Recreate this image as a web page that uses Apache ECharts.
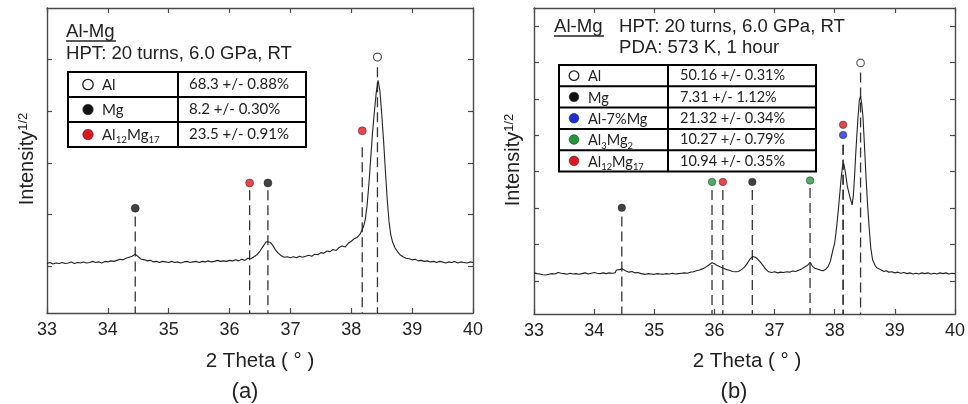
<!DOCTYPE html>
<html><head><meta charset="utf-8">
<script src="https://cdn.jsdelivr.net/npm/echarts@6/dist/echarts.min.js"></script>
<style>html,body{margin:0;padding:0;background:#fff}#c{width:968px;height:404px}</style>
</head><body><div id="c"></div>
<script>
// ---------- data ----------
const xTickValues = [33, 34, 35, 36, 37, 38, 39, 40];

// Panel (a): HPT 20 turns, 6.0 GPa, RT   [2theta, intensity^(1/2) (arb.)]
const specA = [
[33.00,10.5],[33.05,10.7],[33.10,10.4],[33.15,10.6],[33.20,10.5],[33.25,10.7],[33.30,10.5],[33.35,10.6],[33.40,10.8],[33.45,10.5],
[33.50,10.7],[33.55,10.6],[33.60,10.8],[33.65,10.6],[33.70,10.7],[33.75,10.9],[33.80,10.7],[33.85,10.8],[33.90,10.6],[33.95,10.9],
[34.00,10.8],[34.05,11.0],[34.10,10.9],[34.15,11.1],[34.20,11.3],[34.25,11.2],[34.30,11.5],[34.35,11.7],[34.40,11.9],[34.45,12.3],
[34.50,11.8],[34.55,11.3],[34.60,11.2],[34.65,11.0],[34.70,11.1],[34.75,10.8],[34.80,10.9],[34.85,10.7],[34.90,10.9],[34.95,10.8],
[35.00,10.7],[35.05,10.9],[35.10,10.7],[35.15,10.8],[35.20,10.6],[35.25,10.8],[35.30,10.9],[35.35,10.7],[35.40,10.8],[35.45,10.9],
[35.50,10.7],[35.55,10.9],[35.60,10.8],[35.65,11.0],[35.70,10.8],[35.75,10.9],[35.80,11.1],[35.85,10.9],[35.90,11.0],[35.95,10.9],
[36.00,11.1],[36.05,11.0],[36.10,11.2],[36.15,11.0],[36.20,11.3],[36.25,11.1],[36.30,11.5],[36.35,11.4],[36.40,11.8],[36.45,12.2],
[36.50,12.9],[36.55,13.8],[36.60,14.7],[36.63,14.9],[36.67,14.6],[36.71,14.0],[36.75,13.2],[36.80,12.5],[36.85,12.0],[36.90,11.7],
[36.95,11.8],[37.00,11.6],[37.05,11.8],[37.10,11.6],[37.15,11.9],[37.20,11.7],[37.25,11.9],[37.30,12.1],[37.35,11.9],[37.40,12.3],
[37.45,12.2],[37.50,12.6],[37.55,12.5],[37.60,12.9],[37.65,12.8],[37.70,13.2],[37.75,13.0],[37.80,13.6],[37.85,13.9],[37.90,13.7],
[37.95,14.4],[38.00,14.8],[38.05,15.3],[38.10,15.6],[38.15,16.3],[38.20,17.6],[38.23,19.0],[38.26,21.8],[38.29,26.0],[38.32,31.0],
[38.35,36.0],[38.38,40.0],[38.41,43.6],[38.44,46.0],[38.47,44.0],[38.50,39.5],[38.53,34.4],[38.56,28.5],[38.59,23.0],[38.62,18.6],
[38.65,16.0],[38.68,14.6],[38.72,13.5],[38.76,12.8],[38.80,12.2],[38.85,11.8],[38.90,11.5],[38.95,11.4],[39.00,11.2],[39.05,11.3],
[39.10,11.0],[39.15,11.1],[39.20,10.9],[39.25,11.0],[39.30,10.8],[39.35,10.9],[39.40,10.7],[39.45,10.9],[39.50,10.8],[39.55,10.6],
[39.60,10.8],[39.65,10.7],[39.70,10.9],[39.75,10.6],[39.80,10.8],[39.85,10.7],[39.90,10.6],[39.95,10.8],[40.00,10.7]
];

// Panel (b): HPT + PDA 573 K, 1 hour
const specB = [
[33.00,12.2],[33.05,12.0],[33.10,11.9],[33.15,11.7],[33.20,11.6],[33.25,11.8],[33.30,12.0],[33.35,11.9],[33.40,12.3],[33.45,12.1],
[33.50,12.0],[33.55,11.8],[33.60,12.1],[33.65,11.9],[33.70,12.0],[33.75,11.8],[33.80,12.0],[33.85,12.2],[33.90,11.9],[33.95,12.1],
[34.00,12.3],[34.05,12.1],[34.10,12.0],[34.15,12.2],[34.20,12.0],[34.25,12.2],[34.30,12.1],[34.35,12.2],[34.37,13.0],[34.42,13.1],
[34.47,13.3],[34.52,12.8],[34.58,12.4],[34.63,12.6],[34.68,12.2],[34.73,12.3],[34.78,12.0],[34.85,11.8],[34.90,12.0],[34.95,11.9],
[35.00,11.8],[35.05,12.0],[35.10,11.9],[35.15,11.8],[35.20,12.0],[35.25,11.9],[35.30,12.1],[35.35,11.9],[35.40,12.0],[35.45,12.1],
[35.50,12.2],[35.55,12.1],[35.60,12.4],[35.65,12.5],[35.70,12.8],[35.75,13.0],[35.80,13.3],[35.85,13.7],[35.90,14.3],[35.96,15.0],
[36.00,14.7],[36.05,14.2],[36.10,13.8],[36.15,13.5],[36.20,13.1],[36.25,12.9],[36.30,12.6],[36.35,12.5],[36.40,12.6],[36.45,13.1],
[36.50,13.8],[36.55,14.9],[36.60,16.2],[36.64,16.7],[36.68,16.5],[36.72,16.0],[36.76,15.2],[36.80,14.4],[36.85,13.3],[36.90,12.5],
[36.95,12.3],[37.00,12.5],[37.05,12.2],[37.10,12.4],[37.15,12.3],[37.20,12.5],[37.25,12.4],[37.30,12.7],[37.35,12.6],[37.40,12.9],
[37.45,13.3],[37.50,13.8],[37.55,14.3],[37.59,15.1],[37.63,14.0],[37.67,13.5],[37.72,13.2],[37.77,12.9],[37.81,12.8],[37.85,13.2],
[37.89,13.9],[37.93,15.5],[37.97,18.5],[38.00,20.4],[38.03,24.5],[38.06,29.5],[38.09,35.0],[38.11,38.7],[38.13,41.5],[38.15,42.3],
[38.18,39.6],[38.21,36.0],[38.25,33.2],[38.29,30.9],[38.31,33.5],[38.33,38.7],[38.35,45.0],[38.37,50.6],[38.39,55.5],[38.41,59.7],
[38.43,60.8],[38.45,58.5],[38.47,55.1],[38.50,45.5],[38.52,38.7],[38.55,30.0],[38.58,23.1],[38.60,19.0],[38.63,15.8],[38.67,14.3],
[38.70,13.6],[38.74,13.3],[38.78,12.9],[38.82,12.6],[38.86,12.8],[38.90,12.4],[38.95,12.5],[39.00,12.2],[39.05,12.4],[39.10,12.1],
[39.15,12.3],[39.20,12.0],[39.25,12.2],[39.30,11.9],[39.35,12.1],[39.40,11.9],[39.45,12.2],[39.50,12.0],[39.55,12.2],[39.60,11.9],
[39.65,12.1],[39.70,11.9],[39.75,12.2],[39.80,12.0],[39.85,12.2],[39.90,11.9],[39.95,12.1],[40.00,12.0]
];

// Peak markers (a)
const markA_theta = [34.45, 36.33, 36.63, 38.18, 38.43];
const markA_level = [21.2, 26.1, 26.1, 36.2, 50.5];
const markA_lineTop = [19.6, 24.7, 24.7, 33.0, 48.5];
const markA_phase = ['Mg', 'Al12Mg17', 'Mg', 'Al12Mg17', 'Al'];

// Peak markers (b)
const markB_theta = [34.46, 35.96, 36.14, 36.63, 37.59, 38.14, 38.14, 38.43];
const markB_level = [30.1, 37.2, 37.2, 37.2, 37.6, 52.9, 50.1, 69.9];
const markB_lineTop = [27.7, 35.0, 35.0, 35.0, 35.5, 47.4, 47.4, 67.3];
const markB_phase = ['Mg', 'Al3Mg2', 'Al12Mg17', 'Mg', 'Al3Mg2', 'Al12Mg17', 'Al-7%Mg', 'Al'];

// Phase fraction tables
const tableA_phases = ['Al', 'Mg', 'Al12Mg17'];
const tableA_fractions = ['68.3 +/- 0.88%', '8.2 +/- 0.30%', '23.5 +/- 0.91%'];
const tableB_phases = ['Al', 'Mg', 'Al-7%Mg', 'Al3Mg2', 'Al12Mg17'];
const tableB_fractions = ['50.16 +/- 0.31%', '7.31 +/- 1.12%', '21.32 +/- 0.34%', '10.27 +/- 0.79%', '10.94 +/- 0.35%'];

const yTicksA = [10, 20, 30, 40, 50];
const yTicksB = [10, 20, 30, 40, 50, 60, 70, 80];

// ---------- styling ----------
const phaseColor = {
  'Al': '#ffffff', 'Mg': '#111111', 'Al-7%Mg': '#1a2fe0',
  'Al3Mg2': '#1f9a37', 'Al12Mg17': '#e8141c'
};
const AX = '#4a4a4a';
const SANS = '"Liberation Sans", Arial, sans-serif';
const TBL = 'Lato, "Open Sans", sans-serif';

const yA = {min: 0.9, max: 60};
const yB = {min: 0.9, max: 85};

function xAxisCfg(grid, pos, labels) {
  return {
    type: 'value', gridIndex: grid, position: pos, min: 33, max: 40, interval: 1,
    axisLine: {show: true, onZero: false, lineStyle: {color: AX, width: 1.4}},
    axisTick: {show: true, inside: true, length: 5, lineStyle: {color: AX, width: 1.2}},
    axisLabel: {show: labels, fontFamily: SANS, fontSize: 18, color: '#222', margin: 8},
    splitLine: {show: false}
  };
}
function yAxisCfg(grid, pos, r, ticks) {
  return {
    type: 'value', gridIndex: grid, position: pos, min: r.min, max: r.max,
    axisLine: {show: true, onZero: false, lineStyle: {color: AX, width: 1.4}},
    axisTick: {show: true, inside: true, length: 5, customValues: ticks, lineStyle: {color: AX, width: 1.2}},
    axisLabel: {show: false, customValues: ticks},
    splitLine: {show: false}
  };
}

const series = [];
function addPanel(spec, thetas, levels, tops, phases, xi, yi, ymin, msize) {
  series.push({
    type: 'line', xAxisIndex: xi, yAxisIndex: yi, data: spec, showSymbol: false,
    symbol: 'none', lineStyle: {color: '#222', width: 1.1}, silent: true, z: 3
  });
  thetas.forEach((t, i) => {
    series.push({
      type: 'line', xAxisIndex: xi, yAxisIndex: yi, symbol: 'none', silent: true, z: 2,
      data: [[t, tops[i]], [t, ymin]],
      lineStyle: {color: '#333', width: 1.3, type: [10, 5]}
    });
  });
  series.push({
    type: 'scatter', xAxisIndex: xi, yAxisIndex: yi, symbolSize: msize, z: 5, silent: true,
    data: thetas.map((t, i) => ({
      value: [t, levels[i]],
      itemStyle: {color: phaseColor[phases[i]], borderColor: phases[i] === 'Al' ? '#333' : '#222', borderWidth: phases[i] === 'Al' ? 1.2 : 0.6}
    }))
  });
}
addPanel(specA, markA_theta, markA_level, markA_lineTop, markA_phase, 0, 0, yA.min, 8);
addPanel(specB, markB_theta, markB_level, markB_lineTop, markB_phase, 2, 2, yB.min, 7.5);

// ---------- graphic overlays (text & tables) ----------
function richName(n) { return n.replace(/([A-Za-z])(\d+)/g, '$1{sub|$2}'); }

const graphics = [];
function table(x0, x1, xd, rowTops, rowH, phases, fracs, mx, nx, vx, fs, r) {
  const y0 = rowTops, n = phases.length;
  graphics.push({type: 'rect', z: 50, shape: {x: x0, y: y0, width: x1 - x0, height: rowH * n},
    style: {fill: '#fff', stroke: '#000', lineWidth: 2}});
  for (let i = 1; i < n; i++) {
    graphics.push({type: 'line', z: 51, shape: {x1: x0, y1: y0 + rowH * i, x2: x1, y2: y0 + rowH * i},
      style: {stroke: '#000', lineWidth: 2}});
  }
  graphics.push({type: 'line', z: 51, shape: {x1: xd, y1: y0, x2: xd, y2: y0 + rowH * n},
    style: {stroke: '#000', lineWidth: 2}});
  phases.forEach((p, i) => {
    const cy = y0 + rowH * i + rowH / 2;
    graphics.push({type: 'circle', z: 52, shape: {cx: mx, cy: cy, r: r},
      style: {fill: phaseColor[p], stroke: '#222', lineWidth: p === 'Al' ? 1.3 : 0.6}});
    graphics.push({type: 'text', z: 52, x: nx, y: cy + 1, style: {
      text: richName(p), fontFamily: TBL, fontSize: fs, fill: '#222', verticalAlign: 'middle', align: 'left',
      lineHeight: 19,
      rich: {sub: {fontFamily: TBL, fontSize: fs * 0.65, fill: '#222', verticalAlign: 'bottom', lineHeight: 9}}
    }});
    graphics.push({type: 'text', z: 52, x: vx, y: cy, style: {
      text: fracs[i], fontFamily: TBL, fontSize: fs, fill: '#222', verticalAlign: 'middle', align: 'left'}});
  });
}
table(68, 306, 178, 72, 25, tableA_phases, tableA_fractions, 88, 102, 189, 15, 5.2);
table(559, 816, 668, 65, 21.3, tableB_phases, tableB_fractions, 574, 588, 680, 14.5, 4.8);

function txt(x, y, s, fs, align, extra) {
  graphics.push(Object.assign({type: 'text', z: 60, x: x, y: y, style: {
    text: s, fontFamily: SANS, fontSize: fs, fill: '#222', align: align || 'left', verticalAlign: 'middle'}}, extra || {}));
}
// panel (a) headings
txt(66, 32, 'Al-Mg', 18.6);
graphics.push({type: 'line', z: 60, shape: {x1: 66, y1: 41, x2: 116, y2: 41}, style: {stroke: '#222', lineWidth: 1.3}});
txt(66, 54, 'HPT: 20 turns, 6.0 GPa, RT', 18.6);
// panel (b) headings
txt(554, 27, 'Al-Mg', 18.6);
graphics.push({type: 'line', z: 60, shape: {x1: 554, y1: 36, x2: 604, y2: 36}, style: {stroke: '#222', lineWidth: 1.3}});
txt(619, 27, 'HPT: 20 turns, 6.0 GPa, RT', 18.6);
txt(619, 48, 'PDA: 573 K, 1 hour', 18.6);

// axis titles
function yTitle(x, y) {
  graphics.push({type: 'text', z: 60, x: x, y: y, rotation: Math.PI / 2, style: {
    text: 'Intensity{sup|1/2}', fontFamily: SANS, fontSize: 20, fill: '#222', align: 'center', verticalAlign: 'middle',
    rich: {sup: {fontFamily: SANS, fontSize: 13, fill: '#222', verticalAlign: 'top', lineHeight: 13}}
  }});
}
yTitle(27, 159);
yTitle(513, 160);
txt(260, 361, '2 Theta ( \u00b0 )', 20.5, 'center');
txt(747, 361, '2 Theta ( \u00b0 )', 20.5, 'center');
txt(245, 392, '(a)', 22, 'center');
txt(734, 392, '(b)', 22, 'center');

const chart = echarts.init(document.getElementById('c'), null, {renderer: 'canvas'});
chart.setOption({
  animation: false,
  backgroundColor: '#fff',
  grid: [
    {left: 47, top: 8, width: 426, height: 305, show: false},
    {left: 534, top: 8, width: 426, height: 306, show: false}
  ],
  xAxis: [
    xAxisCfg(0, 'bottom', true), xAxisCfg(0, 'top', false),
    xAxisCfg(1, 'bottom', true), xAxisCfg(1, 'top', false)
  ],
  yAxis: [
    yAxisCfg(0, 'left', yA, yTicksA), yAxisCfg(0, 'right', yA, yTicksA),
    yAxisCfg(1, 'left', yB, yTicksB), yAxisCfg(1, 'right', yB, yTicksB)
  ],
  series: series,
  graphic: graphics
});
</script>
</body></html>
